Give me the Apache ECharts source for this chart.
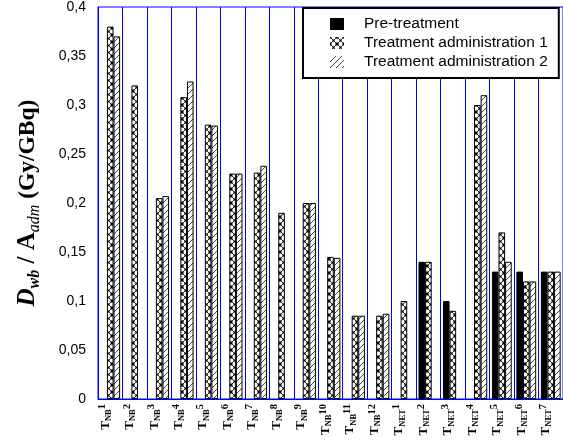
<!DOCTYPE html>
<html>
<head>
<meta charset="utf-8">
<script src="https://cdn.jsdelivr.net/npm/echarts@6/dist/echarts.min.js"></script>
<style>
html,body{margin:0;padding:0;background:#fff;}
#chart{width:563px;height:441px;}
</style>
</head>
<body>
<div id="chart"></div>
<script>
var groups = ['NB','NB','NB','NB','NB','NB','NB','NB','NB','NB','NB','NB','NET','NET','NET','NET','NET','NET','NET'];
var numbers = ['1','2','3','4','5','6','7','8','9','10','11','12','1','2','3','4','5','6','7'];
var categories = groups.map(function(g, i){ return 'T' + g + numbers[i]; });
var preTreatment = ['-','-','-','-','-','-','-','-','-','-','-','-','-',0.14,0.10,'-',0.13,0.13,0.13];
var admin1 = [0.38,0.32,0.205,0.308,0.28,0.23,0.231,0.19,0.20,0.145,0.085,0.085,0.10,0.14,0.09,0.30,0.17,0.12,0.13];
var admin2 = [0.37,'-',0.207,0.324,0.279,0.23,0.238,'-',0.20,0.144,0.085,0.087,'-','-','-',0.31,0.14,0.12,0.13];
var seriesNames = ['Pre-treatment','Treatment administration 1','Treatment administration 2'];

function crossPattern(){
  var s = 7;
  var c = document.createElement('canvas'); c.width = s; c.height = s;
  var g = c.getContext('2d');
  g.fillStyle = '#fff'; g.fillRect(0,0,s,s);
  g.strokeStyle = '#333'; g.lineWidth = 1;
  g.beginPath();
  g.moveTo(0,0); g.lineTo(s,s);
  g.moveTo(s,0); g.lineTo(0,s);
  g.stroke();
  g.fillStyle = '#000';
  g.fillRect(0,0,1.5,1.5); g.fillRect(s-1.5,0,1.5,1.5); g.fillRect(0,s-1.5,1.5,1.5); g.fillRect(s-1.5,s-1.5,1.5,1.5);
  g.fillRect(s/2-1,s/2-1,2,2);
  return c;
}
function diagPattern(){
  var s = 6;
  var c = document.createElement('canvas'); c.width = s; c.height = s;
  var g = c.getContext('2d');
  g.fillStyle = '#fff'; g.fillRect(0,0,s,s);
  g.strokeStyle = '#444'; g.lineWidth = 1;
  g.beginPath();
  g.moveTo(0,s); g.lineTo(s,0);
  g.moveTo(-1,1); g.lineTo(1,-1);
  g.moveTo(s-1,s+1); g.lineTo(s+1,s-1);
  g.stroke();
  return c;
}

var chart = echarts.init(document.getElementById('chart'), null, {renderer:'canvas'});
var barW = 6.6;
var serif = 'Liberation Serif, Times New Roman, serif';
var option = {
  animation: false,
  backgroundColor: '#fff',
  grid: {left: 98, top: 7, width: 470.6, bottom: 42, show: true, borderColor: '#0000ff', borderWidth: 1, backgroundColor: 'transparent'},
  legend: {
    orient: 'vertical', left: 303, top: 8,
    padding: [7, 11, 7, 27],
    backgroundColor: '#fff', borderColor: '#000', borderWidth: 2, borderRadius: 0,
    itemWidth: 14, itemHeight: 12, itemGap: 1,
    itemStyle: {borderWidth: 0},
    icon: 'rect',
    textStyle: {fontFamily: 'Liberation Sans, Arial, sans-serif', fontSize: 15.5, lineHeight: 18, color: '#000', padding: [0,0,0,15]},
    data: seriesNames
  },
  xAxis: {
    type: 'category',
    data: categories,
    axisLine: {show: true, lineStyle: {color: '#0000ff', width: 1}},
    axisTick: {show: false},
    splitLine: {show: true, lineStyle: {color: '#0000ff', width: 1}},
    axisLabel: {
      interval: 0, rotate: 90, margin: 5,
      padding: [0, 0, 10, 0],
      formatter: function(v, i){ return '{t|T}{sub|' + groups[i] + '}{sup|' + numbers[i] + '}'; },
      rich: {
        t: {fontFamily: serif, fontWeight: 'bold', fontSize: 13, color: '#000', lineHeight: 16, verticalAlign: 'middle'},
        sub: {fontFamily: serif, fontWeight: 'bold', fontSize: 8.5, color: '#000', lineHeight: 10, verticalAlign: 'bottom'},
        sup: {fontFamily: serif, fontWeight: 'bold', fontSize: 10.5, color: '#000', lineHeight: 10, verticalAlign: 'top'}
      }
    }
  },
  yAxis: {
    type: 'value', min: 0, max: 0.4, interval: 0.05,
    axisLine: {show: true, lineStyle: {color: '#0000ff', width: 1}},
    axisTick: {show: false},
    splitLine: {show: false},
    axisLabel: {
      margin: 12, color: '#000', fontFamily: 'Liberation Sans, Arial, sans-serif', fontSize: 14,
      formatter: function(v){ return String(+(+v).toFixed(2)).replace('.', ','); }
    },
    name: '{d|D}{wb|wb}{a| / A}{adm|adm}{u| (Gy/GBq)}',
    nameLocation: 'middle', nameGap: 55, nameRotate: 90,
    nameTextStyle: {
      rich: {
        d: {fontFamily: serif, fontWeight: 'bold', fontStyle: 'italic', fontSize: 25, color: '#000', lineHeight: 30, verticalAlign: 'middle'},
        wb: {fontFamily: serif, fontWeight: 'bold', fontStyle: 'italic', fontSize: 16, color: '#000', lineHeight: 18, verticalAlign: 'bottom'},
        a: {fontFamily: serif, fontWeight: 'bold', fontSize: 25, color: '#000', lineHeight: 30, verticalAlign: 'middle'},
        adm: {fontFamily: serif, fontStyle: 'italic', fontSize: 16, color: '#000', lineHeight: 18, verticalAlign: 'bottom'},
        u: {fontFamily: serif, fontWeight: 'bold', fontSize: 23.5, color: '#000', lineHeight: 30, verticalAlign: 'middle'}
      }
    }
  },
  series: [
    {name: seriesNames[0], type: 'bar', data: preTreatment, barWidth: barW, barGap: '0%',
     itemStyle: {color: '#000', borderColor: '#000', borderWidth: 1}},
    {name: seriesNames[1], type: 'bar', data: admin1, barWidth: barW, barGap: '0%',
     itemStyle: {color: {image: crossPattern(), repeat: 'repeat'}, borderColor: '#000', borderWidth: 1}},
    {name: seriesNames[2], type: 'bar', data: admin2, barWidth: barW, barGap: '0%',
     itemStyle: {color: {image: diagPattern(), repeat: 'repeat'}, borderColor: '#000', borderWidth: 1}}
  ]
};
chart.setOption(option);
</script>
</body>
</html>
